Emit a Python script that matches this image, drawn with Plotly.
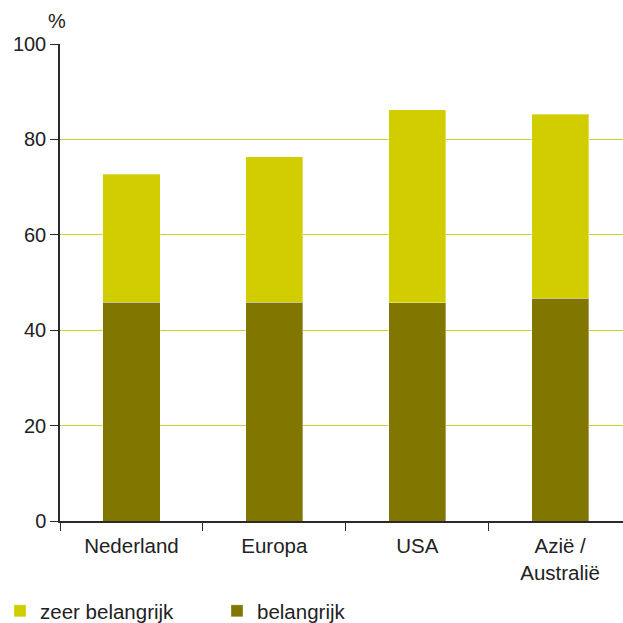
import plotly.graph_objects as go

categories = ["Nederland", "Europa", "USA", "Azië /<br>Australië"]
belangrijk = [45.9, 45.9, 45.8, 46.7]
zeer_belangrijk = [26.8, 30.5, 40.4, 38.6]
y_ticks = [0, 20, 40, 60, 80, 100]

DARK = "#807600"
LIGHT = "#d1cd00"
FONT = "Liberation Sans, Arial, sans-serif"
TXT = "#222222"

fig = go.Figure()
fig.add_trace(go.Bar(x=categories, y=belangrijk, name="belangrijk",
                     marker=dict(color=DARK, line=dict(color="rgba(255,255,255,0.35)", width=1)),
                     width=0.4, legendrank=2))
fig.add_trace(go.Bar(x=categories, y=zeer_belangrijk, name="zeer belangrijk",
                     marker=dict(color=LIGHT, line=dict(color="rgba(255,255,255,0.35)", width=1)),
                     width=0.4, legendrank=1))

fig.update_layout(
    width=623, height=623,
    barmode="stack",
    plot_bgcolor="white", paper_bgcolor="white",
    margin=dict(l=60, r=0, t=44, b=102, pad=0, autoexpand=False),
    font=dict(family=FONT, size=20, color=TXT),
    xaxis=dict(range=[-0.5, 3.44], tickson="boundaries", ticks="outside", ticklen=8,
               tickcolor="#2a2a2a", showline=True, linecolor="#2a2a2a", linewidth=1.5,
               showgrid=False, tickfont=dict(size=20.5), ticklabelstandoff=6,
               automargin=False),
    yaxis=dict(range=[0, 100], tickvals=y_ticks, ticks="outside", ticklen=8,
               tickcolor="#2a2a2a", showline=True, linecolor="#2a2a2a", linewidth=1.5,
               showgrid=True, gridcolor="#d3cf2a", gridwidth=1.2, zeroline=False,
               tickfont=dict(size=20), automargin=False),
    legend=dict(orientation="h", xref="container", yref="container",
                x=0, xanchor="left", y=12 / 623, yanchor="middle",
                traceorder="normal",
                entrywidth=172, entrywidthmode="pixels", font=dict(size=20.5),
                itemclick=False),
    bargap=0.6,
)
fig.add_annotation(text="%", xref="paper", yref="paper", x=-3 / 563, y=1.0, yshift=10,
                   xanchor="center", yanchor="bottom", showarrow=False,
                   font=dict(size=20, family=FONT, color=TXT))

fig.write_html("out.html")
